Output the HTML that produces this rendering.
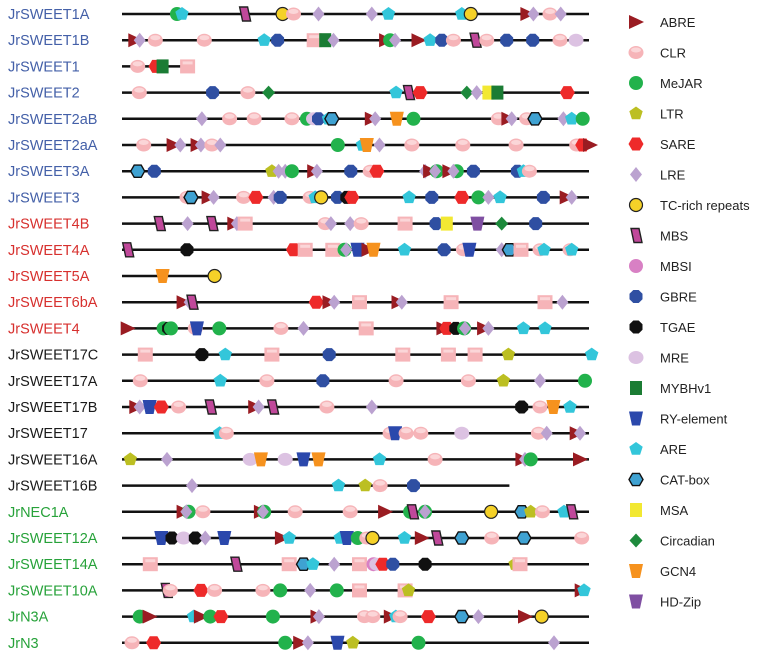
<!DOCTYPE html>
<html><head><meta charset="utf-8"><style>
body{margin:0;background:#fff;width:760px;height:661px;overflow:hidden}
svg{display:block}
text{font-family:"Liberation Sans",Arial,sans-serif}
</style></head><body>
<svg id="chart" width="760" height="661"></svg>
<script>
const geneNames=["JrSWEET1A","JrSWEET1B","JrSWEET1","JrSWEET2","JrSWEET2aB","JrSWEET2aA","JrSWEET3A","JrSWEET3","JrSWEET4B","JrSWEET4A","JrSWEET5A","JrSWEET6bA","JrSWEET4","JrSWEET17C","JrSWEET17A","JrSWEET17B","JrSWEET17","JrSWEET16A","JrSWEET16B","JrNEC1A","JrSWEET12A","JrSWEET14A","JrSWEET10A","JrN3A","JrN3"];
const geneGroups=[0,0,0,0,0,0,0,0,1,1,1,1,1,2,2,2,2,2,2,3,3,3,3,3,3];
const geneLengths=[1437,1437,250,1437,1437,1437,1437,1437,1437,1437,313,1437,1437,1437,1437,1437,1437,1437,1198,1437,1437,1437,1437,1437,1437];
const geneElements=[
"M200 P215 B403 T517 C550 E625 E785 P835 P1055 T1082 A1252 E1270 C1320 E1352",
"A75 E88 C135 C282 P462 G502 Z612 Y645 E670 A828 M840 E855 A925 P960 G995 C1030 B1095 C1130 G1190 G1268 C1350 R1398",
"C82 S137 Y157 Z232",
"C87 G307 C413 D475 P858 B895 S930 D1070 E1100 Q1135 Y1162 S1372",
"E275 C358 C432 C545 M590 R610 G625 P655 X665 A785 E795 N860 M910 C1165 A1195 E1205 C1250 X1275 E1360 P1385 M1418",
"C100 A190 E210 A262 E272 C305 E330 M683 P757 N770 E808 C905 C1058 C1218 C1400 S1418 A1440",
"X82 G132 L485 E505 E525 M545 A612 E620 G722 C780 S800 E945 A960 M980 E975 A1018 M1040 E1030 G1090 G1222 P1240 C1258",
"C230 X242 A295 E310 C400 S437 E490 G510 C600 P615 T633 G682 K710 S725 P897 G965 S1055 M1105 E1135 P1170 G1300 A1370 E1385",
"B147 E232 B305 A372 E380 Z405 C645 E662 E720 C753 Z885 G978 Q1010 H1102 D1175 G1277",
"B52 K230 S550 Z585 Z668 M703 E708 W742 A775 N790 P883 G1002 C1060 W1078 E1175 X1198 Z1233 C1290 P1302 C1380 P1385",
"N157 T313",
"A220 E238 B245 S618 A658 E672 Z748 A865 E875 Z1023 Z1305 E1357",
"A52 M160 K175 M182 C255 W260 M327 C512 E580 Z768 A1000 S1010 K1037 M1062 E1065 A1122 E1135 P1240 P1305",
"Z105 K275 P345 Z485 G657 Z878 Z1015 Z1095 L1195 P1445",
"C90 P330 C470 G638 C858 C1075 L1180 E1290 M1425",
"A78 E88 W118 S153 C205 B300 A435 E445 B487 C650 E785 K1235 C1290 N1330 P1380",
"P328 C348 C840 W855 C888 C932 R1055 C1285 E1310 A1400 E1410",
"L60 E170 R420 N452 R525 W580 N625 P808 C975 A1237 E1245 M1262 A1410",
"E245 P685 L765 C810 G910",
"A220 M235 E228 C278 A452 M462 E458 C555 C720 A825 M900 B907 M945 E945 T1143 X1235 L1262 C1297 P1362 B1385",
"W153 K185 R220 K255 E285 W342 A515 P537 P690 W710 M743 C770 T787 P883 A935 B980 X1055 C1145 X1242 C1415",
"Z120 B377 Z537 X580 P608 E672 Z748 I790 R800 S818 G848 K945 L1215 Z1230",
"B168 C180 S272 C313 C458 M510 E600 M680 Z748 Z885 L895 A1415 P1422",
"M88 A118 P250 A272 M300 S332 M488 A622 E626 C763 C788 A842 P857 C870 S955 X1055 E1105 A1245 T1295",
"C65 S130 M525 A570 E593 W682 L728 M925 E1332"
];
const legendCodes=["A","C","M","L","S","E","T","B","I","G","K","R","Y","W","P","X","Q","D","N","H"];
const legendLabels=["ABRE","CLR","MeJAR","LTR","SARE","LRE","TC-rich repeats","MBS","MBSI","GBRE","TGAE","MRE","MYBHv1","RY-element","ARE","CAT-box","MSA","Circadian","GCN4","HD-Zip"];

const NS="http://www.w3.org/2000/svg";
const svg=document.getElementById("chart");
const x0=122,x1=589,d0=35,d1=1437;
function xScale(v){return x0+(v-d0)*(x1-x0)/(d1-d0);}
function yScale(i){return 14+i*26.2;}
function mk(tag,attrs,parent){const e=document.createElementNS(NS,tag);for(const k in attrs)e.setAttribute(k,attrs[k]);(parent||svg).appendChild(e);return e;}
function poly(n,r,rot){let p=[];for(let i=0;i<n;i++){const a=rot+i*2*Math.PI/n;p.push((r*Math.cos(a)).toFixed(1)+","+(r*Math.sin(a)).toFixed(1));}return p.join(" ");}
function drawShape(code,g){
  switch(code){
    case "A":mk("polygon",{points:"-7,-7 8,0 -7,7",fill:"#9a1c22"},g);break;
    case "C":mk("ellipse",{rx:7.5,ry:6.5,fill:"#f6b4b8"},g);mk("ellipse",{rx:5,ry:2.5,cy:-2.5,fill:"#fbd6d8"},g);break;
    case "Z":mk("rect",{x:-7.5,y:-7,width:15,height:14,fill:"#f6b4b8"},g);mk("rect",{x:-5,y:-5,width:10,height:3,fill:"#fbd6d8"},g);break;
    case "M":mk("circle",{r:7,fill:"#22b24c"},g);break;
    case "L":mk("polygon",{points:poly(5,7,-Math.PI/2),fill:"#bcbf22"},g);break;
    case "S":mk("polygon",{points:poly(6,7.5,0),fill:"#ee2a2a"},g);break;
    case "E":mk("polygon",{points:"0,-7.5 6,0 0,7.5 -6,0",fill:"#bba2d0"},g);break;
    case "T":mk("circle",{r:6.5,fill:"#f5d128",stroke:"#222","stroke-width":1.2},g);break;
    case "B":mk("polygon",{points:"-5,-7 3,-7 6,7 -2,7",fill:"#c0489a",stroke:"#222","stroke-width":1.4},g);break;
    case "I":mk("circle",{r:7,fill:"#d880c4"},g);break;
    case "G":mk("polygon",{points:poly(8,7,Math.PI/8),fill:"#2f4fa2"},g);break;
    case "K":mk("polygon",{points:poly(8,7,Math.PI/8),fill:"#111"},g);break;
    case "R":mk("ellipse",{rx:7.5,ry:6.5,fill:"#dcc2e2"},g);break;
    case "Y":mk("rect",{x:-6,y:-7,width:12,height:14,fill:"#1b7c34"},g);break;
    case "W":mk("polygon",{points:"-7,-7 7,-7 4,7 -4,7",fill:"#2b48ac"},g);break;
    case "P":mk("polygon",{points:poly(5,7,-Math.PI/2),fill:"#33c6da"},g);break;
    case "X":mk("polygon",{points:poly(6,7,0),fill:"#3fa2d2",stroke:"#111","stroke-width":1.4},g);break;
    case "Q":mk("rect",{x:-6,y:-7,width:12,height:14,fill:"#f2e832"},g);break;
    case "D":mk("polygon",{points:"0,-7 6.5,0 0,7 -6.5,0",fill:"#1d8a3c"},g);break;
    case "N":mk("polygon",{points:"-7,-7 7,-7 4,7 -4,7",fill:"#f6921e"},g);break;
    case "H":mk("polygon",{points:"-7,-7 7,-7 4,7 -4,7",fill:"#7f4fa2"},g);break;
  }
}
const groupColors=["#4460a8","#d7302e","#1a1a1a","#27a23a"];
geneNames.forEach((name,i)=>{
  const y=yScale(i);
  const row=mk("g",{});
  
  
  const t=mk("text",{x:8,y:y+5,"font-size":14.5,fill:groupColors[geneGroups[i]]},row);
  t.textContent=name;
  
  
  const ln=mk("line",{x1:xScale(d0),x2:xScale(geneLengths[i]),y1:y,y2:y,stroke:"#111","stroke-width":2.5},row);
  
  
  geneElements[i].split(" ").forEach(tok=>{
    const code=tok[0],pos=+tok.slice(1);
    const g=mk("g",{transform:"translate("+xScale(pos).toFixed(1)+","+y.toFixed(1)+")"},row);
    
    
    drawShape(code,g);
  });
});
legendCodes.forEach((c,i)=>{
  const y=22+i*30.5;
  const g=mk("g",{transform:"translate(636,"+y+")"});
  
  
  drawShape(c,g);
  const t=mk("text",{x:24,y:5,"font-size":13,fill:"#222"},g);
  t.textContent=legendLabels[i];
});
</script>
</body></html>
